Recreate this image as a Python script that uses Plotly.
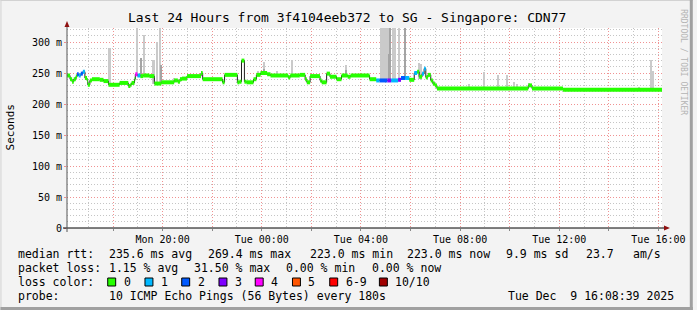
import plotly.graph_objects as go
import pandas as pd

# ---------------- data ----------------
title_text = "Last 24 Hours from 3f4104eeb372 to SG - Singapore: CDN77"
t_start = "2025-12-08 16:08:39"
t_end = "2025-12-09 16:08:39"

# median rtt step series (start time of each step, ms, lost pings of 10)
med_time = [
    "2025-12-08 16:09", "2025-12-08 16:16", "2025-12-08 16:21", "2025-12-08 16:25",
    "2025-12-08 16:30", "2025-12-08 16:33", "2025-12-08 16:37", "2025-12-08 16:42",
    "2025-12-08 16:47", "2025-12-08 16:52", "2025-12-08 16:57", "2025-12-08 16:59",
    "2025-12-08 17:04", "2025-12-08 17:09", "2025-12-08 17:28", "2025-12-08 17:37",
    "2025-12-08 17:49", "2025-12-08 18:16", "2025-12-08 18:37", "2025-12-08 18:42",
    "2025-12-08 18:45", "2025-12-08 18:52", "2025-12-08 18:54", "2025-12-08 18:59",
    "2025-12-08 19:06", "2025-12-08 19:13", "2025-12-08 19:28", "2025-12-08 19:40",
    "2025-12-08 19:57", "2025-12-08 20:28", "2025-12-08 20:37", "2025-12-08 20:42",
    "2025-12-08 20:47", "2025-12-08 20:59", "2025-12-08 21:33", "2025-12-08 21:37",
    "2025-12-08 22:25", "2025-12-08 22:30", "2025-12-08 23:01", "2025-12-08 23:06",
    "2025-12-08 23:11", "2025-12-08 23:18", "2025-12-08 23:23", "2025-12-08 23:40",
    "2025-12-08 23:47", "2025-12-08 23:57",
    "2025-12-09 00:13", "2025-12-09 00:21", "2025-12-09 01:04", "2025-12-09 01:09",
    "2025-12-09 01:32", "2025-12-09 01:45", "2025-12-09 01:49", "2025-12-09 01:57",
    "2025-12-09 02:21", "2025-12-09 02:25", "2025-12-09 02:37", "2025-12-09 02:45",
    "2025-12-09 03:01", "2025-12-09 03:13", "2025-12-09 03:28", "2025-12-09 03:35",
    "2025-12-09 04:21", "2025-12-09 04:37", "2025-12-09 04:45", "2025-12-09 05:04",
    "2025-12-09 05:13", "2025-12-09 05:30", "2025-12-09 05:37", "2025-12-09 05:47",
    "2025-12-09 05:57", "2025-12-09 06:09", "2025-12-09 06:16", "2025-12-09 06:21",
    "2025-12-09 06:28", "2025-12-09 06:33", "2025-12-09 06:37", "2025-12-09 06:42",
    "2025-12-09 06:49", "2025-12-09 06:54", "2025-12-09 06:59", "2025-12-09 07:04",
    "2025-12-09 10:45", "2025-12-09 10:54", "2025-12-09 12:09",
]
med_ms = [
    246, 240, 236, 240, 244, 248, 246, 249, 252, 242, 238, 231,
    238, 240, 239, 237, 231, 234, 229, 231, 234, 240, 248, 246,
    245, 246, 245, 233, 235, 238, 236, 240, 241, 245, 250, 240,
    235, 247, 235, 236, 270, 236, 235, 240, 247, 250,
    248, 246, 243, 246, 247, 240, 235, 245, 238, 235, 249, 244,
    240, 246, 244, 246, 240, 238, 238, 238, 238, 239, 242, 242,
    239, 250, 252, 244, 249, 257, 243, 247, 238, 233, 230, 225,
    230, 225, 223,
]
med_loss = [
    0, 0, 0, 0, 0, 2, 1, 2, 1, 0, 0, 0,
    0, 0, 0, 0, 0, 0, 0, 0, 0, 0, 4, 1,
    0, 0, 0, 0, 0, 0, 0, 0, 0, 0, 0, 0,
    0, 0, 0, 0, 0, 0, 0, 0, 0, 0,
    0, 0, 0, 0, 0, 0, 0, 0, 0, 0, 0, 0,
    0, 0, 0, 0, 0, 1, 2, 3, 1, 3, 2, 1,
    0, 1, 0, 0, 1, 1, 0, 0, 0, 0, 0, 0,
    0, 0, 0,
]

# smoke (ping spread): centre time, duration (min), low ms, high ms
smoke_time = [
    "2025-12-08 17:52", "2025-12-08 18:59", "2025-12-08 19:15", "2025-12-08 19:37",
    "2025-12-08 19:47", "2025-12-08 19:54", "2025-12-08 20:28", "2025-12-08 20:45",
    "2025-12-08 23:51", "2025-12-09 00:06", "2025-12-09 00:37", "2025-12-09 01:13",
    "2025-12-09 03:23", "2025-12-09 04:58", "2025-12-09 05:18", "2025-12-09 05:23",
    "2025-12-09 05:33", "2025-12-09 06:21", "2025-12-09 06:26", "2025-12-09 08:21",
    "2025-12-09 08:59", "2025-12-09 09:33", "2025-12-09 09:54", "2025-12-09 10:11",
    "2025-12-09 10:18", "2025-12-09 10:47", "2025-12-09 13:33", "2025-12-09 15:14",
    "2025-12-09 15:42", "2025-12-09 15:47",
]
smoke_min = [7, 3, 7, 7, 5, 3, 3, 3, 7, 5, 3, 3, 3, 22, 3, 3, 3, 3, 5, 3, 3, 3, 5, 5, 5, 3, 3, 3, 5, 3]
smoke_low = [234, 245, 245, 233, 233, 233, 236, 240, 247, 248, 246, 246, 244, 238, 238, 238,
             239, 240, 238, 225, 225, 225, 225, 225, 225, 230, 223, 223, 223, 223]
smoke_high = [291, 340, 311, 271, 300, 340, 242, 243, 253, 268, 253, 271, 263, 340, 340, 340,
              340, 266, 264, 232, 252, 246, 246, 236, 232, 234, 225, 228, 271, 253]

# denser core of the smoke
core_time = ["2025-12-08 19:09", "2025-12-08 19:57", "2025-12-09 00:06", "2025-12-09 03:23",
             "2025-12-09 05:11", "2025-12-09 05:47", "2025-12-09 05:09"]
core_min = [3, 3, 3, 2, 3, 3, 3]
core_low = [245, 235, 248, 244, 238, 242, 238]
core_high = [274, 263, 256, 255, 340, 340, 280]

loss_keys = [0, 1, 2, 3, 4, 5, 6, 10]
loss_labels = ["0", "1", "2", "3", "4", "5", "6-9", "10/10"]
loss_colors = ["#26ff00", "#00b8ff", "#0059ff", "#7e00ff", "#ff00ff", "#ff5500", "#ff0000", "#a00000"]

y_tickvals = [0, 50, 100, 150, 200, 250, 300]
y_ticktext = ["0", "50 m", "100 m", "150 m", "200 m", "250 m", "300 m"]
y_minorvals = [v for v in range(10, 330, 10) if v % 50]

x_tickvals = ["2025-12-08 18:00", "2025-12-08 20:00", "2025-12-08 22:00", "2025-12-09 00:00",
              "2025-12-09 02:00", "2025-12-09 04:00", "2025-12-09 06:00", "2025-12-09 08:00",
              "2025-12-09 10:00", "2025-12-09 12:00", "2025-12-09 14:00", "2025-12-09 16:00"]
x_ticktext = ["", "Mon 20:00", "", "Tue 00:00", "", "Tue 04:00", "", "Tue 08:00",
              "", "Tue 12:00", "", "Tue 16:00"]
x_minorvals = ["2025-12-08 17:00", "2025-12-08 19:00", "2025-12-08 21:00", "2025-12-08 23:00",
               "2025-12-09 01:00", "2025-12-09 03:00", "2025-12-09 05:00", "2025-12-09 07:00",
               "2025-12-09 09:00", "2025-12-09 11:00", "2025-12-09 13:00", "2025-12-09 15:00"]

stats_rtt = ["median rtt:", "235.6 ms avg", "269.4 ms max", "223.0 ms min", "223.0 ms now", "9.9 ms sd", "23.7", "am/s"]
stats_loss = ["packet loss:", "1.15 % avg", "31.50 % max", "0.00 % min", "0.00 % now"]
probe_text = ["probe:", "10 ICMP Echo Pings (56 Bytes) every 180s", "Tue Dec\u00a0\u00a09 16:08:39 2025"]

# ---------------- layout helpers ----------------
W, H = 697, 310
L, R, T, B = 67, 666, 28, 228
FONT = "DejaVu Sans Mono"


def fx(x):
    return (x - L) / (R - L)


def fy(y):
    return (B - y) / (B - T)


def dt(lst):
    return pd.to_datetime(lst, format="mixed")


fig = go.Figure()

# smoke
fig.add_trace(go.Bar(
    x=dt(smoke_time), y=[h - l for h, l in zip(smoke_high, smoke_low)], base=smoke_low,
    width=[m * 60000 for m in smoke_min], marker=dict(color="#cacaca", line=dict(width=0)),
    hoverinfo="skip", showlegend=False))
fig.add_trace(go.Bar(
    x=dt(core_time), y=[h - l for h, l in zip(core_high, core_low)], base=core_low,
    width=[m * 60000 for m in core_min], marker=dict(color="#a4a4a4", line=dict(width=0)),
    hoverinfo="skip", showlegend=False))

# black median step line
tx = list(dt(med_time + [t_end]))
fig.add_trace(go.Scatter(
    x=tx, y=med_ms + [med_ms[-1]], mode="lines", line=dict(color="#202020", width=1, shape="hv"),
    hoverinfo="skip", showlegend=False))

# coloured loss bands
for key, col in zip(loss_keys, loss_colors):
    xs, ys = [], []
    for i, (v, lo) in enumerate(zip(med_ms, med_loss)):
        k = lo if lo < 6 else (6 if lo < 10 else 10)
        if k == key:
            xs += [tx[i], tx[i + 1], None]
            ys += [v, v, None]
    if xs:
        fig.add_trace(go.Scatter(x=xs, y=ys, mode="lines", line=dict(color=col, width=4),
                                 hoverinfo="skip", showlegend=False))

grid_red = "rgba(235,110,110,0.75)"
grid_gray = "rgba(150,150,150,0.55)"

fig.update_layout(
    width=W, height=H, margin=dict(l=L, r=W - R, t=T, b=H - B),
    paper_bgcolor="#f3f3f3", plot_bgcolor="#ffffff", barmode="overlay", bargap=0,
    showlegend=False, font=dict(family=FONT, size=10, color="#000"),
    xaxis=dict(type="date", range=[t_start, t_end], tickmode="array", tickvals=x_tickvals,
               ticktext=x_ticktext, showgrid=True, gridcolor=grid_red, griddash="1px,2px",
               gridwidth=1, ticks="outside", ticklen=2, tickcolor="#888", showline=False,
               zeroline=False, tickfont=dict(family=FONT, size=10, color="#000"),
               minor=dict(tickmode="array", tickvals=x_minorvals, showgrid=True, gridcolor=grid_gray,
                          griddash="1px,2px", ticks="")),
    yaxis=dict(range=[0, 322.6], tickmode="array", tickvals=y_tickvals, ticktext=y_ticktext,
               showgrid=True, gridcolor=grid_red, griddash="1px,2px", gridwidth=1,
               ticks="outside", ticklen=2, tickcolor="rgba(235,110,110,0.75)", showline=False,
               zeroline=False, tickfont=dict(family=FONT, size=10, color="#000"),
               minor=dict(tickmode="array", tickvals=y_minorvals, showgrid=True, gridcolor=grid_gray,
                          griddash="1px,2px", ticks="")),
)

shapes = []
# axis lines
shapes.append(dict(type="line", xref="paper", yref="paper", x0=fx(63), x1=fx(670), y0=fy(228), y1=fy(228),
                   line=dict(color="#000", width=1)))
shapes.append(dict(type="line", xref="paper", yref="paper", x0=fx(67), x1=fx(67), y0=fy(232), y1=fy(26),
                   line=dict(color="#555", width=1)))
# arrows
shapes.append(dict(type="path", xref="paper", yref="paper",
                   path=f"M {fx(64.5)} {fy(27)} L {fx(69.5)} {fy(27)} L {fx(67)} {fy(21)} Z",
                   fillcolor="#8e1010", line=dict(width=0)))
shapes.append(dict(type="path", xref="paper", yref="paper",
                   path=f"M {fx(668)} {fy(225.5)} L {fx(668)} {fy(230.5)} L {fx(674)} {fy(228)} Z",
                   fillcolor="#8e1010", line=dict(width=0)))
# frame
shapes.append(dict(type="line", xref="paper", yref="paper", x0=fx(0), x1=fx(697), y0=fy(0.5), y1=fy(0.5),
                   line=dict(color="#d2d2d2", width=1)))
shapes.append(dict(type="line", xref="paper", yref="paper", x0=fx(0.5), x1=fx(0.5), y0=fy(0), y1=fy(310),
                   line=dict(color="#d2d2d2", width=1)))
shapes.append(dict(type="line", xref="paper", yref="paper", x0=fx(0), x1=fx(697), y0=fy(308.5), y1=fy(308.5),
                   line=dict(color="#a0a0a0", width=3)))
shapes.append(dict(type="line", xref="paper", yref="paper", x0=fx(695.5), x1=fx(695.5), y0=fy(0), y1=fy(310),
                   line=dict(color="#a0a0a0", width=3)))

annotations = []


def txt(s, x, y, size=11.5, anchor="left", color="#000", angle=0):
    annotations.append(dict(text=s, x=fx(x), y=fy(y), xref="paper", yref="paper", showarrow=False,
                            xanchor=anchor, yanchor="middle", textangle=angle,
                            font=dict(family=FONT, size=size, color=color)))


txt(title_text, 348.5, 18, size=13, anchor="center")
txt("Seconds", 10, 127, size=11, anchor="center", angle=-90)
txt("RRDTOOL / TOBI OETIKER", 688, 62, size=8, anchor="center", color="#b4b4b4", angle=90)

rtt_x = [16, 107, 207, 310, 407, 507, 587, 635]
for s, x in zip(stats_rtt, rtt_x):
    txt(s, x, 254)
loss_x = [16, 107, 193, 285, 372]
for s, x in zip(stats_loss, loss_x):
    txt(s, x, 268)
txt("loss color:", 16, 282)
box_x = [108, 145.5, 182.5, 220, 256.5, 294, 331.5, 381.5]
for lab, col, bx in zip(loss_labels, loss_colors, box_x):
    shapes.append(dict(type="rect", xref="paper", yref="paper", x0=fx(bx), x1=fx(bx + 8),
                       y0=fy(278), y1=fy(286), fillcolor=col, line=dict(color="#000", width=1)))
    txt(lab, bx + 14, 282)
txt(probe_text[0], 16, 296)
txt(probe_text[1], 107, 296)
txt(probe_text[2], 680, 296, anchor="right")

fig.update_layout(shapes=shapes, annotations=annotations)
fig.write_html("out.html")
